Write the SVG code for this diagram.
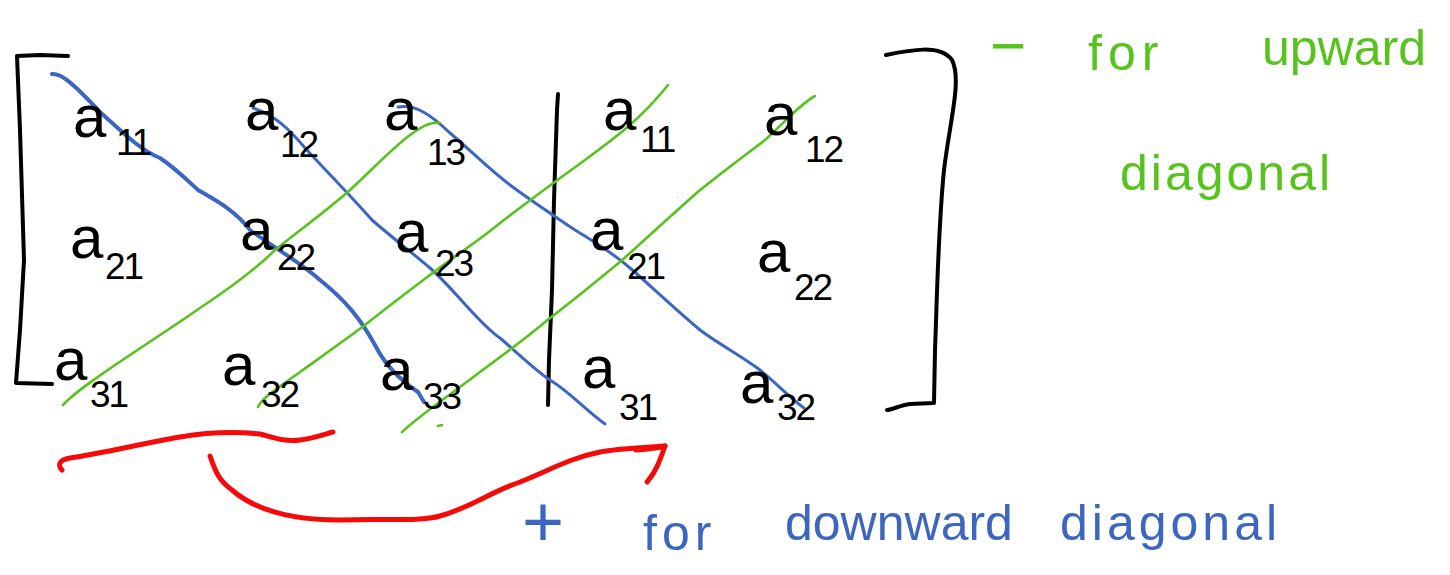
<svg xmlns="http://www.w3.org/2000/svg" width="1450" height="575" viewBox="0 0 1450 575">
<style>
.ink{fill:none;stroke-linecap:round;stroke-linejoin:round}
.blk{stroke:#000;stroke-width:4}
.blue{stroke:#3d66c0;stroke-width:3}
.green{stroke:#56c41c;stroke-width:2.6}
.red{stroke:#f50a0a;stroke-width:5}
.a{font-family:"Liberation Sans",Arial,sans-serif;font-size:60px;fill:#000}
.s{font-family:"Liberation Sans",Arial,sans-serif;font-size:37px;fill:#000;letter-spacing:-2px}
.gt{font-family:"Liberation Sans",Arial,sans-serif;font-size:50px;fill:#56c41c}
.bt{font-family:"Liberation Sans",Arial,sans-serif;font-size:50px;fill:#3d66c0}
</style>
<rect width="1450" height="575" fill="#fff"/>
<g id="brackets">
<path class="ink blk" d="M68,56 L40,55 L17,56 L20,130 L24,260 L20,330 L16,383 L52,384"/>
<path class="ink blk" d="M886,55 C910,50 940,44 952,60 C962,80 950,120 944,170 C938,230 937,300 935,350 L934,403 L910,404 C900,405 892,410 887,410"/>
<path class="ink blk" d="M558,94 L557,110 L554,200 L552,290 L549,360 L548,405"/>
</g>
<g id="connectors">
<path class="ink blue" style="stroke-width:4" d="M52,74 C60,73 70,80 100,112 C120,130 140,150 160,158 C175,168 185,178 198,190 C215,200 235,210 250,230 C270,245 300,262 320,280 C345,300 360,318 375,345 C385,365 400,380 418,392 L424,402"/>
<path class="ink blue" d="M253,108 C275,115 290,130 305,148 C330,175 350,195 372,220 C395,240 415,255 430,268 C455,290 480,325 500,338 C520,355 535,370 550,380 C570,392 585,410 605,424"/>
<path class="ink blue" d="M398,107 C415,104 430,114 450,133 C470,150 490,170 510,185 C530,200 550,213 575,230 C600,245 615,255 630,268 C650,285 670,305 700,330 C720,345 740,355 760,370 C775,382 790,398 804,408"/>
<path class="ink green" d="M63,405 C75,392 100,375 130,355 C160,335 180,322 200,308 C230,288 255,270 275,250 C300,230 330,208 350,190 C370,172 390,150 410,135 C425,124 432,122 440,123"/>
<path class="ink green" d="M258,407 C262,398 275,390 300,372 C325,354 345,340 365,325 C390,305 410,290 430,275 C460,252 480,240 500,223 C530,200 560,178 585,160 C615,138 640,120 668,85"/>
<path class="ink green" d="M402,432 C420,415 450,395 480,372 C510,350 530,335 550,318 C580,295 600,278 620,262 C650,235 675,212 700,190 C725,170 745,155 765,140 C785,122 800,104 815,96"/>
<path class="ink green" d="M438,426 L442,425"/>
<path class="ink red" d="M62,470 C58,466 58,460 70,458 C100,454 140,444 180,437 C210,432 240,432 260,434 C275,438 285,442 300,440 C315,438 325,434 333,432"/>
<path class="ink red" d="M210,456 C215,470 218,480 232,490 C255,510 290,520 340,520 C380,518 420,522 440,516 C470,508 490,492 520,482 C550,470 570,458 600,452 C620,448 640,448 665,446"/>
<path class="ink red" d="M636,450 C650,449 658,448 665,446 C660,460 656,472 647,482"/>
</g>
<g id="n-a11"><text class="a" x="73" y="137">a</text><text class="s" x="116" y="155">11</text></g>
<g id="n-a12"><text class="a" x="245" y="130">a</text><text class="s" x="280" y="157">12</text></g>
<g id="n-a13"><text class="a" x="384" y="130">a</text><text class="s" x="427" y="165">13</text></g>
<g id="n-a21"><text class="a" x="70" y="258">a</text><text class="s" x="105" y="279">21</text></g>
<g id="n-a22"><text class="a" x="240" y="250">a</text><text class="s" x="277" y="270">22</text></g>
<g id="n-a23"><text class="a" x="395" y="252">a</text><text class="s" x="435" y="276">23</text></g>
<g id="n-a31"><text class="a" x="54" y="380">a</text><text class="s" x="90" y="407">31</text></g>
<g id="n-a32"><text class="a" x="222" y="385">a</text><text class="s" x="261" y="407">32</text></g>
<g id="n-a33"><text class="a" x="380" y="390">a</text><text class="s" x="423" y="409">33</text></g>
<g id="n-a11b"><text class="a" x="603" y="130">a</text><text class="s" x="640" y="152">11</text></g>
<g id="n-a12b"><text class="a" x="764" y="135">a</text><text class="s" x="805" y="162">12</text></g>
<g id="n-a21b"><text class="a" x="590" y="250">a</text><text class="s" x="627" y="279">21</text></g>
<g id="n-a22b"><text class="a" x="757" y="272">a</text><text class="s" x="794" y="300">22</text></g>
<g id="n-a31b"><text class="a" x="582" y="388">a</text><text class="s" x="619" y="420">31</text></g>
<g id="n-a32b"><text class="a" x="740" y="403">a</text><text class="s" x="777" y="420">32</text></g>
<g id="legend-upward">
<text class="gt" x="990" y="67" style="font-size:62px">−</text>
<text class="gt" x="1088" y="70" style="letter-spacing:6px">for</text>
<text class="gt" x="1262" y="65">upward</text>
<text class="gt" x="1120" y="190" style="letter-spacing:3px">diagonal</text>
</g>
<g id="legend-downward">
<text class="bt" x="543" y="546" text-anchor="middle" style="font-size:72px">+</text>
<text class="bt" x="643" y="550" style="letter-spacing:5px">for</text>
<text class="bt" x="785" y="540">downward</text>
<text class="bt" x="1060" y="540" style="letter-spacing:4px">diagonal</text>
</g>
</svg>
